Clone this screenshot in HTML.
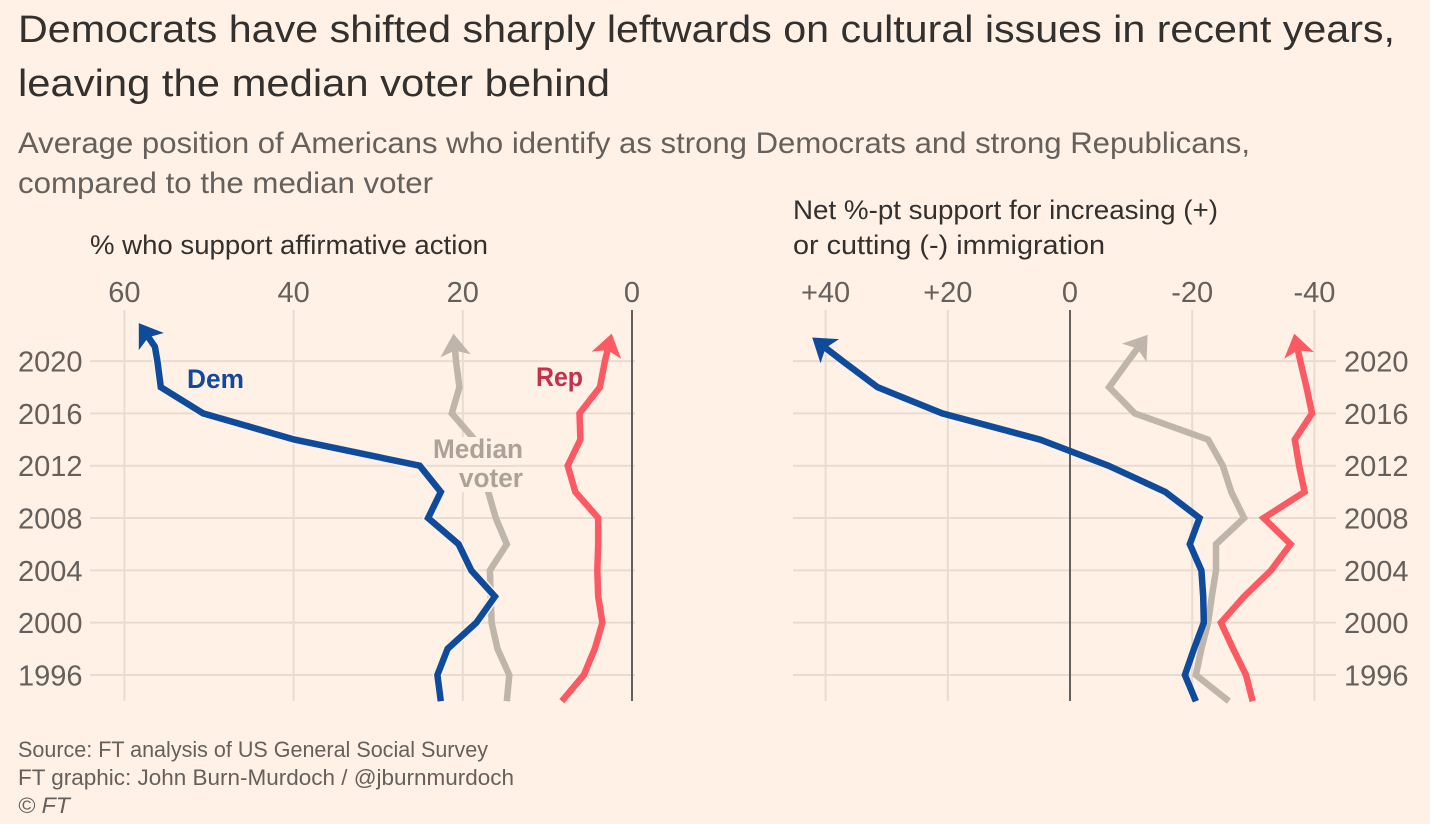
<!DOCTYPE html>
<html lang="en">
<head>
<meta charset="utf-8">
<title>Democrats have shifted sharply leftwards on cultural issues</title>
<style>
html,body{margin:0;padding:0;background:#fff1e6;}
svg{display:block;}
text{font-family:"Liberation Sans",sans-serif;}
.title{font-size:38px;fill:#33302e;}
.sub{font-size:30px;fill:#66605c;}
.axt{font-size:27px;fill:#33302e;}
.tick{font-size:29px;fill:#66605c;}
.src{font-size:22px;fill:#66605c;}
.lab{font-size:27px;font-weight:bold;paint-order:stroke;stroke:#fff1e6;stroke-width:6px;stroke-linejoin:round;}
</style>
</head>
<body>
<svg id="chart" xmlns="http://www.w3.org/2000/svg" width="1430" height="824" viewBox="0 0 1430 824">
  <rect width="1430" height="824" fill="#fff1e6"/>
  <text class="title" x="18" y="42" textLength="1377" lengthAdjust="spacingAndGlyphs">Democrats have shifted sharply leftwards on cultural issues in recent years,</text>
  <text class="title" x="18" y="96" textLength="592" lengthAdjust="spacingAndGlyphs">leaving the median voter behind</text>
  <text class="sub" x="18" y="153" textLength="1232" lengthAdjust="spacingAndGlyphs">Average position of Americans who identify as strong Democrats and strong Republicans,</text>
  <text class="sub" x="18" y="193" textLength="415" lengthAdjust="spacingAndGlyphs">compared to the median voter</text>
  <text class="axt" x="90" y="254" textLength="398" lengthAdjust="spacingAndGlyphs">% who support affirmative action</text>
  <text class="axt" x="793" y="219" textLength="425" lengthAdjust="spacingAndGlyphs">Net %-pt support for increasing (+)</text>
  <text class="axt" x="793" y="254" textLength="312" lengthAdjust="spacingAndGlyphs">or cutting (-) immigration</text>
  <g id="plots"></g>
  <g id="labels">
    <rect x="460" y="437" width="50" height="55" fill="#fff1e6"/>
    <line x1="455" x2="515" y1="466" y2="466" stroke="#e8dcd1" stroke-width="2"/>
    <text class="lab" x="187" y="388" fill="#12499a" textLength="57" lengthAdjust="spacingAndGlyphs">Dem</text>
    <text class="lab" x="536" y="386" fill="#c5304a" textLength="47" lengthAdjust="spacingAndGlyphs">Rep</text>
    <text class="lab" x="433" y="458" fill="#aca398" textLength="90" lengthAdjust="spacingAndGlyphs" style="stroke-width:3px">Median</text>
    <text class="lab" x="459" y="487" fill="#aca398" textLength="64" lengthAdjust="spacingAndGlyphs" style="stroke-width:3px">voter</text>
  </g>
  <text class="src" x="18" y="757" textLength="470" lengthAdjust="spacingAndGlyphs">Source: FT analysis of US General Social Survey</text>
  <text class="src" x="18" y="785" textLength="496" lengthAdjust="spacingAndGlyphs">FT graphic: John Burn-Murdoch / @jburnmurdoch</text>
  <text class="src" x="18" y="813" font-style="italic" textLength="52" lengthAdjust="spacingAndGlyphs">© FT</text>
</svg>
<script>
// Shared categories
const years = [1994,1996,1998,2000,2002,2004,2006,2008,2010,2012,2014,2016,2018,2020];
const yearTicks = [1996,2000,2004,2008,2012,2016,2020];

// Left panel: % who support affirmative action
const leftTicks = [60,40,20,0];
const leftTickLabels = ['60','40','20','0'];
const leftDem = [22.6,23,21.8,18.4,16.2,19,20.5,24.1,22.6,25.1,39.9,50.7,55.7,56.1];
const leftMedian = [14.8,14.5,15.9,16.6,16.7,16.8,14.8,16.1,17,18,18.6,21.3,20.4,20.8];
const leftRep = [8.3,5.7,4.4,3.5,4,4.1,4,4,6.7,7.6,6.1,6.2,3.8,3.2];
// Final points after 2020: [year, value]
const leftDemTail = [[2021.1,56.4],[2022.9,58.3]];
const leftMedianTail = [[2022.1,21.1]];
const leftRepTail = [[2022.1,2.4]];

// Right panel: net %-pt support for increasing or cutting immigration
const rightTicks = [40,20,0,-20,-40];
const rightTickLabels = ['+40','+20','0','-20','-40'];
const rightDem = [-20.6,-18.8,-20.3,-21.9,-21.8,-21.5,-19.6,-21.2,-15.6,-6.3,4.9,20.9,31.5,37.2];
const rightMedian = [-26,-20.6,-21.5,-22.6,-23.2,-23.9,-23.9,-28.5,-26.4,-25,-22.6,-10.6,-6.4,-9.5];
const rightRep = [-29.9,-28.8,-26.7,-24.7,-28.5,-32.9,-36.1,-31.7,-38.4,-37.5,-36.8,-39.6,-38.7,-37.7];
const rightDemTail = [[2021.8,42.2]];
const rightMedianTail = [[2022,-12.7]];
const rightRepTail = [[2022.1,-36.7]];

const NS = 'http://www.w3.org/2000/svg';
const plots = document.getElementById('plots');
const yScale = yr => 675 - (yr - 1996) * 13.08;
const xLeft = v => 632 - v * 8.46;
const xRight = v => 1070 - v * 6.11;
const GRID = '#e8dcd1', ZERO = '#66605c', BG = '#fff1e6';

function mk(tag, attrs, parent) {
  const el = document.createElementNS(NS, tag);
  for (const k in attrs) el.setAttribute(k, attrs[k]);
  parent.appendChild(el);
  return el;
}

function drawAxes(group, xs, ticks, labels, x0, x1, yearX, yearAnchor) {
  yearTicks.forEach(yr => {
    const line = mk('line', {x1:x0, x2:x1, y1:yScale(yr), y2:yScale(yr), stroke:GRID, 'stroke-width':2}, group);
    
    
    const t = mk('text', {x:yearX, y:yScale(yr)+10.5, 'text-anchor':yearAnchor, class:'tick'}, group);
    t.textContent = yr;
    
    
  });
  ticks.forEach((v, i) => {
    const line = mk('line', {x1:xs(v), x2:xs(v), y1:310, y2:701, stroke:v===0?ZERO:GRID, 'stroke-width':2}, group);
    
    
    const t = mk('text', {x:xs(v), y:302, 'text-anchor':'middle', class:'tick'}, group);
    t.textContent = labels[i];
    
    
  });
}

function fmt(p) { return p[0].toFixed(1)+','+p[1].toFixed(1); }

function drawSeries(group, xs, vals, tail, color, name, halo) {
  const pts = years.map((yr, i) => [xs(vals[i]), yScale(yr)]);
  tail.forEach(p => pts.push([xs(p[1]), yScale(p[0])]));
  const tip = pts[pts.length-1], prev = pts[pts.length-2];
  const ang = Math.atan2(tip[1]-prev[1], tip[0]-prev[0]);
  const barb = 27, spread = 0.6, notch = 17;
  const bA = [tip[0]-barb*Math.cos(ang-spread), tip[1]-barb*Math.sin(ang-spread)];
  const bB = [tip[0]-barb*Math.cos(ang+spread), tip[1]-barb*Math.sin(ang+spread)];
  const nP = [tip[0]-notch*Math.cos(ang), tip[1]-notch*Math.sin(ang)];
  pts[pts.length-1] = nP;
  const str = pts.map(fmt).join(' ');
  const s = mk('g', {}, group);
  
  
  if (halo) {
    mk('polyline', {points:str, fill:'none', stroke:BG, 'stroke-width':9.5, 'stroke-linejoin':'miter'}, s);
  }
  const line = mk('polyline', {points:str, fill:'none', stroke:color, 'stroke-width':6.5, 'stroke-linejoin':'miter', 'stroke-miterlimit':6}, s);
  
  
  const head = mk('polygon', {points:[tip,bA,nP,bB].map(fmt).join(' '), fill:color}, s);
  
  
}

const BLUE = '#0f4b9b', RED = '#fb5a63', GREY = '#bfb5aa';

const leftG = mk('g', {}, plots);


drawAxes(leftG, xLeft, leftTicks, leftTickLabels, 90, 635, 18, 'start');
drawSeries(leftG, xLeft, leftMedian, leftMedianTail, GREY, 'median-voter-series-left', false);
drawSeries(leftG, xLeft, leftRep, leftRepTail, RED, 'republican-series-left', false);
drawSeries(leftG, xLeft, leftDem, leftDemTail, BLUE, 'democrat-series-left', true);

const rightG = mk('g', {}, plots);


drawAxes(rightG, xRight, rightTicks, rightTickLabels, 793, 1336, 1344, 'start');
drawSeries(rightG, xRight, rightMedian, rightMedianTail, GREY, 'median-voter-series-right', false);
drawSeries(rightG, xRight, rightRep, rightRepTail, RED, 'republican-series-right', false);
drawSeries(rightG, xRight, rightDem, rightDemTail, BLUE, 'democrat-series-right', false);
</script>
</body>
</html>
